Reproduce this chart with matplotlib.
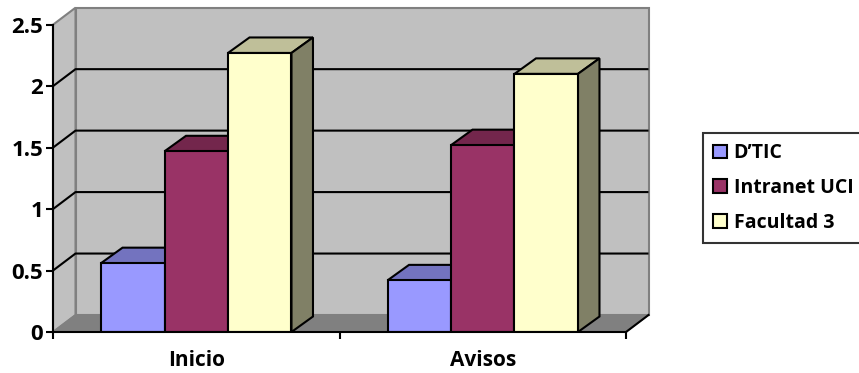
import matplotlib.pyplot as plt
from matplotlib.patches import Polygon

categories = ['Inicio', 'Avisos']
series = ["D\u2019TIC", 'Intranet UCI', 'Facultad 3']
values = [
    [0.56, 0.42],   # D'TIC
    [1.47, 1.52],   # Intranet UCI
    [2.27, 2.10],   # Facultad 3
]
yticks = [0, 0.5, 1, 1.5, 2, 2.5]

front = ['#9999FF', '#993366', '#FFFFCC']
top = ['#7373BF', '#73264C', '#BFBF99']
side = ['#5C5C99', '#5C1F3D', '#808066']

plt.rcParams['font.family'] = ['Open Sans', 'DejaVu Sans']
plt.rcParams['font.weight'] = 'bold'

fig = plt.figure(figsize=(8.59, 3.73), dpi=100)
W, H = 859, 373
x0, x1, y0, y1 = 53, 626, 332, 24.7
ax = fig.add_axes([x0 / W, (H - y0) / H, (x1 - x0) / W, (y0 - y1) / H])
ax.set_xlim(0, 2)
ax.set_ylim(0, 2.5)
ax.patch.set_visible(False)

# depth offset of the walls, in data units
px_x = 2 / (x1 - x0)
px_y = 2.5 / (y0 - y1)
dx, dy = 22.5 * px_x, 17 * px_y
bdx, bdy = 21.5 * px_x, 15.5 * px_y

wall = '#C0C0C0'
# back wall
ax.add_patch(Polygon([(dx, dy), (2 + dx, dy), (2 + dx, 2.5 + dy), (dx, 2.5 + dy)],
                     closed=True, fc=wall, ec='#808080', lw=1.5, zorder=1, clip_on=False))
# side wall
ax.add_patch(Polygon([(0, 0), (dx, dy), (dx, 2.5 + dy), (0, 2.5)],
                     closed=True, fc=wall, ec='#808080', lw=1.5, zorder=1, clip_on=False))
# floor
ax.add_patch(Polygon([(0, 0), (2, 0), (2 + dx, dy), (dx, dy)],
                     closed=True, fc='#808080', ec='#808080', lw=1, zorder=1.5, clip_on=False))
ax.plot([2, 2 + dx], [0, dy], color='black', lw=1.5, zorder=1.6, clip_on=False)

# gridlines on walls
for t in yticks[1:-1]:
    ax.plot([0, dx, 2 + dx], [t, t + dy, t + dy], color='black', lw=1.5, zorder=2,
            clip_on=False, solid_capstyle='butt')

# bars
w = 0.2216
for k, s in enumerate(series):
    for i, v in enumerate(values[k]):
        xl = i + 0.5 + (k - 1) * w - w / 2
        z = 3 + k
        ax.bar(xl, v, width=w, align='edge', color=front[k], edgecolor='black', lw=1.5,
               zorder=z + 0.2, label=s if i == 0 else None)
        ax.add_patch(Polygon([(xl, v), (xl + w, v), (xl + w + bdx, v + bdy), (xl + bdx, v + bdy)],
                             closed=True, fc=top[k], ec='black', lw=1.5, zorder=z, clip_on=False))
        ax.add_patch(Polygon([(xl + w, 0), (xl + w + bdx, bdy), (xl + w + bdx, v + bdy), (xl + w, v)],
                             closed=True, fc=side[k], ec='black', lw=1.5, zorder=z, clip_on=False))

for sp in ['top', 'right']:
    ax.spines[sp].set_visible(False)
for sp in ['left', 'bottom']:
    ax.spines[sp].set_linewidth(1.5)
    ax.spines[sp].set_zorder(10)

ax.set_yticks(yticks)
ax.set_yticklabels([f'{t:g}' for t in yticks], fontsize=16, fontweight='bold')
ax.set_xticks([0, 1, 2])
ax.set_xticklabels([])
ax.set_xticks([0.5, 1.5], minor=True)
ax.set_xticklabels(categories, minor=True, fontsize=15, fontweight='bold')
ax.tick_params(axis='x', which='minor', length=0, pad=13)
ax.tick_params(axis='both', which='major', length=5, width=1.5, pad=2)

leg = ax.legend(loc='upper left', bbox_to_anchor=(703 / W, (H - 133) / H),
                bbox_transform=fig.transFigure, frameon=True, fancybox=False,
                edgecolor='black', handlelength=0.7, handleheight=0.7,
                handletextpad=0.35, labelspacing=0.76, borderaxespad=0, borderpad=0.52,
                prop={'weight': 'bold', 'size': 14})
leg.get_frame().set_linewidth(1.5)

fig.savefig('out.png', dpi=100)
